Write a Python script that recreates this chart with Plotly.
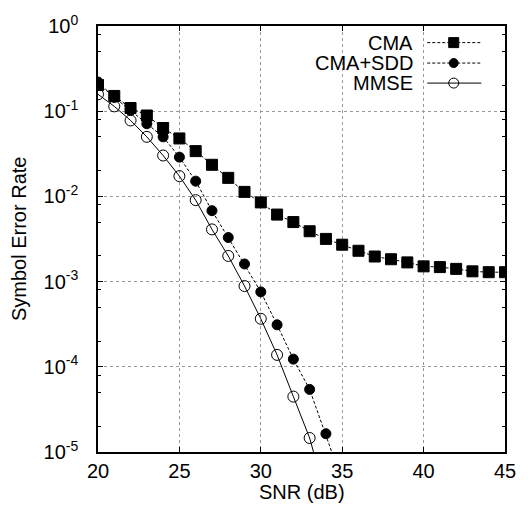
import plotly.graph_objects as go

snr_cma = list(range(20, 46))
ser_cma = [0.203, 0.151, 0.109, 0.089, 0.0635, 0.0479, 0.034, 0.0235, 0.0165, 0.0113,
           0.0085, 0.00612, 0.0050, 0.0039, 0.00317, 0.00271, 0.0023, 0.00197, 0.00183,
           0.00168, 0.00151, 0.00148, 0.00141, 0.00132, 0.00129, 0.00129]

snr_sdd = list(range(20, 36))
ser_sdd = [0.22, 0.145, 0.102, 0.0713, 0.050, 0.0289, 0.0151, 0.0068, 0.00329, 0.00161,
           0.000757, 0.000311, 0.000123, 5.43e-5, 1.64e-5, 4.5e-6]

snr_mmse = list(range(20, 35))
ser_mmse = [0.158, 0.114, 0.0779, 0.050, 0.0302, 0.0173, 0.00904, 0.0041, 0.0020, 0.000887,
            0.000366, 0.000138, 4.47e-5, 1.46e-5, 3.0e-6]

names = ["CMA", "CMA+SDD", "MMSE"]
y_major = [1, 0.1, 0.01, 0.001, 1e-4, 1e-5]
y_major_text = ["10<sup>0</sup>", "10<sup>-1</sup>", "10<sup>-2</sup>", "10<sup>-3</sup>",
                "10<sup>-4</sup>", "10<sup>-5</sup>"]
x_ticks = [20, 25, 30, 35, 40, 45]

FONT = "Liberation Sans, Arial, Helvetica, sans-serif"

y_minor = []
for d in range(0, 5):
    for m in (8, 5, 2):
        y_minor.append(m * 10 ** (-(d + 1)))

fig = go.Figure()

styles = [
    dict(dash="3px,2px", symbol="square", size=11, color="black"),
    dict(dash="3px,2px", symbol="circle", size=10, color="black"),
    dict(dash="solid", symbol="circle-open", size=11, color="black"),
]
series = [(snr_cma, ser_cma), (snr_sdd, ser_sdd), (snr_mmse, ser_mmse)]

for (xs, ys), nm, st in zip(series, names, styles):
    fig.add_trace(go.Scatter(
        x=xs, y=ys, name=nm, mode="lines+markers",
        line=dict(color="black", width=1, dash=st["dash"]),
        marker=dict(symbol=st["symbol"], size=st["size"], color="black",
                    line=dict(color="black", width=1)),
        cliponaxis=True, showlegend=False))

# custom legend (sample on right of text, as in reference)
leg_y = [0.961, 0.913, 0.866]
for nm, st, ly in zip(names, styles, leg_y):
    fig.add_trace(go.Scatter(
        x=[0.809, 0.942], y=[ly, ly], mode="lines", xaxis="x2", yaxis="y2",
        line=dict(color="black", width=1, dash=st["dash"]), showlegend=False,
        hoverinfo="skip"))
    fig.add_trace(go.Scatter(
        x=[0.874], y=[ly], mode="markers", xaxis="x2", yaxis="y2",
        marker=dict(symbol=st["symbol"], size=st["size"] - 1, color="black",
                    line=dict(color="black", width=1)),
        showlegend=False, hoverinfo="skip"))
    fig.add_annotation(x=0.780, y=ly, xref="x2", yref="y2", text=nm, showarrow=False,
                       xanchor="right", yanchor="middle", height=20,
                       font=dict(family=FONT, size=20, color="black"))

fig.update_layout(
    width=528, height=514,
    margin=dict(l=98, r=16, t=19, b=62),
    paper_bgcolor="white", plot_bgcolor="white",
    font=dict(family=FONT, size=20, color="black"),
    xaxis=dict(
        range=[20, 45], tickvals=x_ticks, ticks="inside", ticklen=5, tickcolor="black",
        showline=True, linecolor="black", linewidth=1.5, mirror="ticks",
        showgrid=True, gridcolor="#999999", griddash="dot", gridwidth=1,
        zeroline=False, tickfont=dict(size=20),
    ),
    yaxis=dict(
        type="log", range=[-5, 0], tickvals=y_major, ticktext=y_major_text,
        ticks="inside", ticklen=5, tickcolor="black",
        showline=True, linecolor="black", linewidth=1.5, mirror="ticks",
        showgrid=True, gridcolor="#999999", griddash="dot", gridwidth=1,
        zeroline=False, tickfont=dict(size=20), ticklabelstandoff=14,
        minor=dict(tickmode="array", tickvals=y_minor, ticks="inside", ticklen=3,
                   tickcolor="black", showgrid=False),
    ),
    xaxis2=dict(range=[0, 1], overlaying="x", visible=False, fixedrange=True),
    yaxis2=dict(range=[0, 1], overlaying="y", visible=False, fixedrange=True),
    showlegend=False,
)

fig.add_annotation(x=0.5, y=-0.095, xref="paper", yref="paper", text="SNR (dB)",
                   showarrow=False, xanchor="center", yanchor="middle",
                   font=dict(family=FONT, size=20, color="black"))
fig.add_annotation(x=-0.194, y=0.5, xref="paper", yref="paper", text="Symbol Error Rate",
                   showarrow=False, textangle=-90, xanchor="center", yanchor="middle",
                   font=dict(family=FONT, size=20, color="black"))

fig.write_html(
    "out.html",
    config={"displayModeBar": False},
    post_script="document.body.style.margin='0';document.body.style.overflow='hidden';",
)
